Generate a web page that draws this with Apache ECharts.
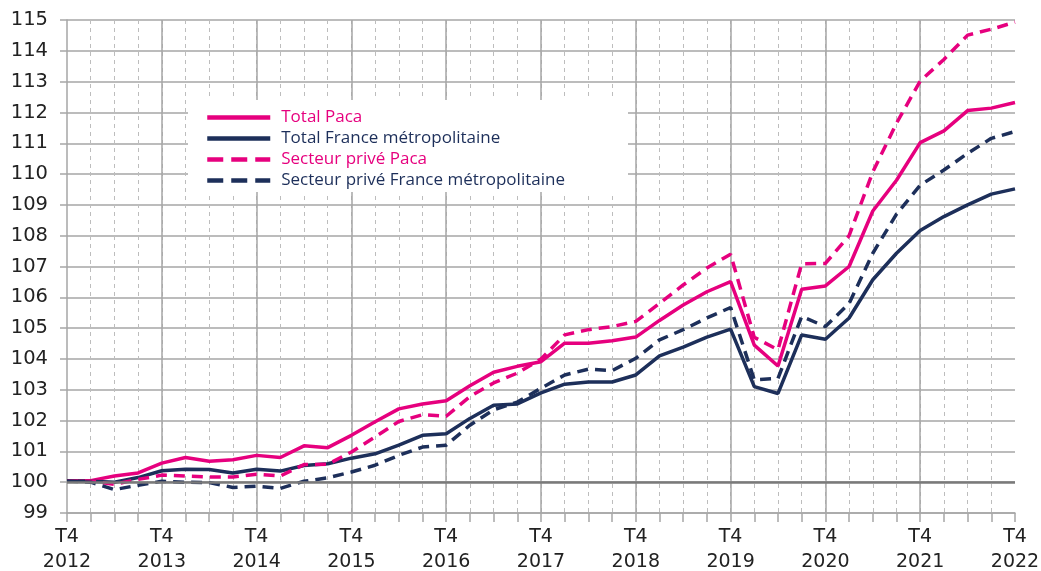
<!DOCTYPE html>
<html>
<head>
<meta charset="utf-8">
<script src="https://cdn.jsdelivr.net/npm/echarts@6/dist/echarts.min.js"></script>
<style>
  html, body { margin: 0; padding: 0; background: #fff; }
  #main { width: 1041px; height: 571px; }
</style>
</head>
<body>
<div id="main"></div>
<script>
// quarters from T4 2012 to T4 2022
var quarters = [];
quarters.push('T4 2012');
for (var y = 2013; y <= 2022; y++) {
  quarters.push('T1 ' + y, 'T2 ' + y, 'T3 ' + y, 'T4 ' + y);
}

var totalPaca = [100.05,100.05,100.2,100.3,100.62,100.8,100.68,100.73,100.87,100.8,
  101.18,101.12,101.52,101.96,102.38,102.54,102.64,103.13,103.57,103.76,
  103.91,104.51,104.51,104.59,104.71,105.25,105.75,106.18,106.51,104.45,
  103.77,106.26,106.37,107.0,108.8,109.8,111.02,111.4,112.06,112.14,112.32];
var totalFrance = [100.04,100.03,100.0,100.15,100.37,100.42,100.41,100.3,100.42,100.36,
  100.54,100.6,100.78,100.92,101.2,101.52,101.57,102.07,102.5,102.54,
  102.9,103.18,103.25,103.25,103.48,104.1,104.38,104.71,104.97,103.1,
  102.88,104.78,104.64,105.33,106.57,107.43,108.17,108.62,109.0,109.35,109.52];
var privePaca = [100.04,100.04,99.93,100.09,100.23,100.2,100.17,100.17,100.26,100.2,
  100.57,100.58,100.98,101.47,101.97,102.19,102.14,102.78,103.22,103.54,
  104.0,104.78,104.95,105.05,105.22,105.8,106.4,106.95,107.4,104.7,
  104.3,107.09,107.1,108.0,110.07,111.65,113.02,113.72,114.51,114.7,114.93];
var priveFrance = [100.04,100.0,99.76,99.9,100.03,100.0,99.99,99.83,99.87,99.8,
  100.03,100.14,100.33,100.55,100.87,101.14,101.2,101.85,102.35,102.6,
  103.05,103.48,103.67,103.62,104.02,104.62,104.95,105.33,105.67,103.32,
  103.37,105.38,105.05,105.8,107.43,108.7,109.64,110.13,110.67,111.16,111.38];

var PINK = '#e6007e';
var NAVY = '#1d2f5a';
var GRID = '#a6a6a6';

var chart = echarts.init(document.getElementById('main'));

function mkSeries(name, data, color, dashed) {
  return {
    name: name,
    type: 'line',
    data: data,
    symbol: 'none',
    showSymbol: false,
    xAxisIndex: 0,
    lineStyle: { color: color, width: 3.5, type: dashed ? [11, 7] : 'solid' },
    itemStyle: { color: color },
    emphasis: { disabled: true }
  };
}

var series = [
  mkSeries('Total Paca', totalPaca, PINK, false),
  mkSeries('Total France métropolitaine', totalFrance, NAVY, false),
  mkSeries('Secteur privé Paca', privePaca, PINK, true),
  mkSeries('Secteur privé France métropolitaine', priveFrance, NAVY, true)
];
// base 100 line
series[0].markLine = {
  silent: true,
  symbol: 'none',
  label: { show: false },
  lineStyle: { color: '#7a7a7a', width: 2.5, type: 'solid' },
  data: [{ yAxis: 100 }]
};

var option = {
  animation: false,
  backgroundColor: '#fff',
  grid: { left: 67, right: 26, top: 20, bottom: 58, outerBoundsMode: 'none', containLabel: false },
  graphic: [{
    type: 'rect',
    left: 188, top: 100,
    shape: { width: 440, height: 92 },
    style: { fill: '#fff' },
    z: 50
  }],
  legend: {
    orient: 'vertical',
    left: 200, top: 104,
    itemWidth: 63, itemHeight: 10,
    itemGap: 4,
    z: 60,
    itemStyle: { opacity: 0 },
    lineStyle: { width: 4.5 },
    textStyle: { fontFamily: 'Open Sans', fontSize: 17, padding: [0, 0, 0, 6] },
    data: [
      { name: 'Total Paca', textStyle: { color: PINK } },
      { name: 'Total France métropolitaine', textStyle: { color: NAVY } },
      { name: 'Secteur privé Paca', textStyle: { color: PINK }, lineStyle: { type: [16, 8] } },
      { name: 'Secteur privé France métropolitaine', textStyle: { color: NAVY }, lineStyle: { type: [16, 8] } }
    ]
  },
  xAxis: [{
    type: 'category',
    data: quarters,
    boundaryGap: false,
    axisLine: { lineStyle: { color: GRID, width: 1.5 } },
    axisTick: { show: true, interval: 0, length: 9, lineStyle: { color: GRID, width: 1.5 } },
    axisLabel: {
      interval: 3,
      color: '#222',
      fontFamily: 'DejaVu Sans',
      fontSize: 19,
      lineHeight: 25,
      margin: 12,
      formatter: function (v) { return v.replace(' ', '\n'); }
    },
    splitLine: {
      show: true, interval: 0, showMinLine: false, showMaxLine: false,
      lineStyle: { color: '#bdbdbd', width: 1, type: [4, 4] }
    }
  }, {
    type: 'category',
    data: quarters,
    boundaryGap: false,
    position: 'bottom',
    axisLine: { show: false },
    axisTick: { show: false },
    axisLabel: { show: false },
    splitLine: {
      show: true, interval: 3, showMinLine: false, showMaxLine: false,
      lineStyle: { color: GRID, width: 1.5 }
    }
  }],
  yAxis: {
    type: 'value',
    min: 99, max: 115, interval: 1,
    axisLine: { show: true, lineStyle: { color: GRID, width: 1.5 } },
    axisTick: { show: true, length: 7, lineStyle: { color: GRID, width: 1.5 } },
    axisLabel: { color: '#222', fontFamily: 'DejaVu Sans', fontSize: 19.5, margin: 19 },
    splitLine: { show: true, lineStyle: { color: GRID, width: 1.5 } }
  },
  series: series
};

chart.setOption(option);
</script>
</body>
</html>
